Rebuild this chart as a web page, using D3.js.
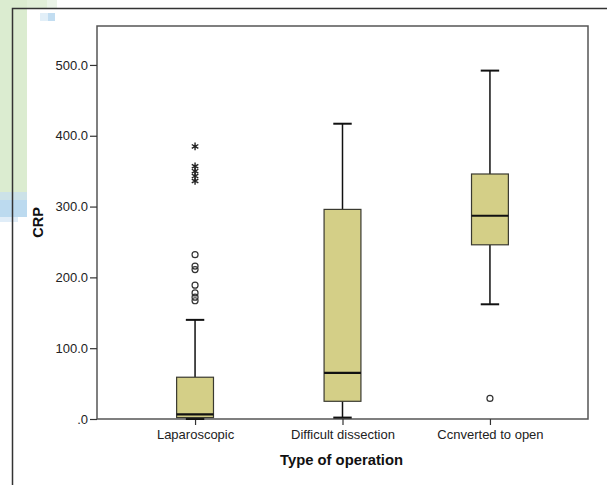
<!DOCTYPE html>
<html>
<head>
<meta charset="utf-8">
<script src="https://cdn.jsdelivr.net/npm/d3@7"></script>
<style>
  html, body { margin: 0; padding: 0; background: #fff; }
  svg { display: block; font-family: "Liberation Sans", Arial, sans-serif; }
</style>
</head>
<body>
<div id="chart"></div>
<script>
// Box plot of CRP by type of operation
const categories = ["Laparoscopic", "Difficult dissection", "Ccnverted to open"];
const mins    = [0, 2, 162];
const q1s     = [2, 25, 246];
const medians = [6.5, 65, 287];
const q3s     = [59, 296, 346];
const maxs    = [140, 417, 492];
// outliers (circles) and extremes (stars)
const outlierCat = ["Laparoscopic", "Laparoscopic", "Laparoscopic", "Laparoscopic", "Laparoscopic", "Laparoscopic", "Laparoscopic", "Ccnverted to open"];
const outlierVal = [232, 216, 211, 189, 178, 172, 167, 29];
const extremeCat = ["Laparoscopic", "Laparoscopic", "Laparoscopic", "Laparoscopic", "Laparoscopic"];
const extremeVal = [385, 357, 350, 343, 336];
const yTicks = [0, 100, 200, 300, 400, 500];

const width = 607, height = 485;
const svg = d3.select("#chart").append("svg")
  .attr("width", width)
  .attr("height", height);

// background decoration bits (pixelated page corner)
const deco = [
  { x: 0, y: 0, w: 27, h: 192, c: "#dbecd0" },
  { x: 27, y: 0, w: 20, h: 8, c: "#e1efd8" },
  { x: 47, y: 0, w: 10, h: 8, c: "#ebf4e8" },
  { x: 0, y: 192, w: 27, h: 8, c: "#cce2e8" },
  { x: 0, y: 200, w: 27, h: 17, c: "#bcdaef" },
  { x: 0, y: 217, w: 18, h: 5, c: "#e0edf8" },
  { x: 48, y: 13, w: 7, h: 8, c: "#c2ddf1" },
  { x: 40, y: 13, w: 8, h: 8, c: "#e2eff8" }
];
svg.selectAll(".deco").data(deco).enter().append("rect")
  .attr("x", d => d.x).attr("y", d => d.y)
  .attr("width", d => d.w).attr("height", d => d.h)
  .attr("fill", d => d.c);

// outer frame (left + top)
svg.append("path")
  .attr("d", `M12.5,${height} V8.5 H${width}`)
  .attr("fill", "none")
  .attr("stroke", "#333")
  .attr("stroke-width", 1.5);

const margin = { top: 26, right: 19, bottom: 66, left: 97 };
const x0 = margin.left, x1 = width - margin.right;
const y0 = height - margin.bottom, y1 = margin.top;

const x = d3.scalePoint().domain(categories).range([x0, x1]).padding(0.665);
const y = d3.scaleLinear().domain([0, 555]).range([y0, y1]);
const boxW = x.step() * 0.25;

// plot frame
svg.append("rect")
  .attr("x", x0).attr("y", y1)
  .attr("width", x1 - x0).attr("height", y0 - y1)
  .attr("fill", "#fff")
  .attr("stroke", "#555")
  .attr("stroke-width", 1.5);

// y axis
const yAxis = svg.append("g")
  .attr("transform", `translate(${x0},0)`)
  .call(d3.axisLeft(y).tickValues(yTicks).tickSize(7).tickPadding(2)
    .tickFormat(d => d === 0 ? ".0" : d3.format(".1f")(d)));
yAxis.select(".domain").remove();
yAxis.selectAll("line").attr("stroke", "#333").attr("stroke-width", 1.2);
yAxis.selectAll("text").attr("font-size", 13).attr("fill", "#222")
  .attr("font-family", "Liberation Sans, Arial, sans-serif");

// x axis
const xAxis = svg.append("g")
  .attr("transform", `translate(0,${y0})`)
  .call(d3.axisBottom(x).tickSize(6).tickPadding(5));
xAxis.select(".domain").remove();
xAxis.selectAll("line").attr("stroke", "#333").attr("stroke-width", 1.2);
xAxis.selectAll("text").attr("font-size", 13).attr("fill", "#222")
  .attr("font-family", "Liberation Sans, Arial, sans-serif");

// boxes
const boxes = categories.map((c, i) => ({
  cat: c, min: mins[i], q1: q1s[i], med: medians[i], q3: q3s[i], max: maxs[i]
}));

const bg = svg.selectAll(".box").data(boxes).enter().append("g").attr("class", "box");

// whiskers
bg.append("line")
  .attr("x1", d => x(d.cat)).attr("x2", d => x(d.cat))
  .attr("y1", d => y(d.q3)).attr("y2", d => y(d.max))
  .attr("stroke", "#111").attr("stroke-width", 1.5);
bg.append("line")
  .attr("x1", d => x(d.cat)).attr("x2", d => x(d.cat))
  .attr("y1", d => y(d.q1)).attr("y2", d => y(d.min))
  .attr("stroke", "#111").attr("stroke-width", 1.5);
// caps
bg.append("line")
  .attr("x1", d => x(d.cat) - boxW / 4).attr("x2", d => x(d.cat) + boxW / 4)
  .attr("y1", d => y(d.max)).attr("y2", d => y(d.max))
  .attr("stroke", "#111").attr("stroke-width", 2);
bg.append("line")
  .attr("x1", d => x(d.cat) - boxW / 4).attr("x2", d => x(d.cat) + boxW / 4)
  .attr("y1", d => y(d.min)).attr("y2", d => y(d.min))
  .attr("stroke", "#111").attr("stroke-width", 2);
// box
bg.append("rect")
  .attr("x", d => x(d.cat) - boxW / 2)
  .attr("y", d => y(d.q3))
  .attr("width", boxW)
  .attr("height", d => y(d.q1) - y(d.q3))
  .attr("fill", "#d4cf87")
  .attr("stroke", "#3a3a30")
  .attr("stroke-width", 1.2);
// median
bg.append("line")
  .attr("x1", d => x(d.cat) - boxW / 2).attr("x2", d => x(d.cat) + boxW / 2)
  .attr("y1", d => y(d.med)).attr("y2", d => y(d.med))
  .attr("stroke", "#111").attr("stroke-width", 2.2);

// outliers
svg.selectAll(".outlier").data(outlierVal).enter().append("circle")
  .attr("cx", (d, i) => x(outlierCat[i]))
  .attr("cy", d => y(d))
  .attr("r", 3)
  .attr("fill", "none")
  .attr("stroke", "#333")
  .attr("stroke-width", 1.2);

// extremes
svg.selectAll(".extreme").data(extremeVal).enter().append("path")
  .attr("transform", (d, i) => `translate(${x(extremeCat[i])},${y(d)})`)
  .attr("d", d3.symbol().type(d3.symbolAsterisk).size(40))
  .attr("fill", "none")
  .attr("stroke", "#222")
  .attr("stroke-width", 1.4);

// axis titles
svg.append("text")
  .attr("x", (x0 + x1) / 2 - 1)
  .attr("y", 465)
  .attr("text-anchor", "middle")
  .attr("font-size", 14.8)
  .attr("font-weight", "bold")
  .attr("fill", "#111")
  .text("Type of operation");

svg.append("text")
  .attr("transform", `translate(43,${(y0 + y1) / 2}) rotate(-90)`)
  .attr("text-anchor", "middle")
  .attr("font-size", 14.5)
  .attr("font-weight", "bold")
  .attr("fill", "#111")
  .text("CRP");
</script>
</body>
</html>
